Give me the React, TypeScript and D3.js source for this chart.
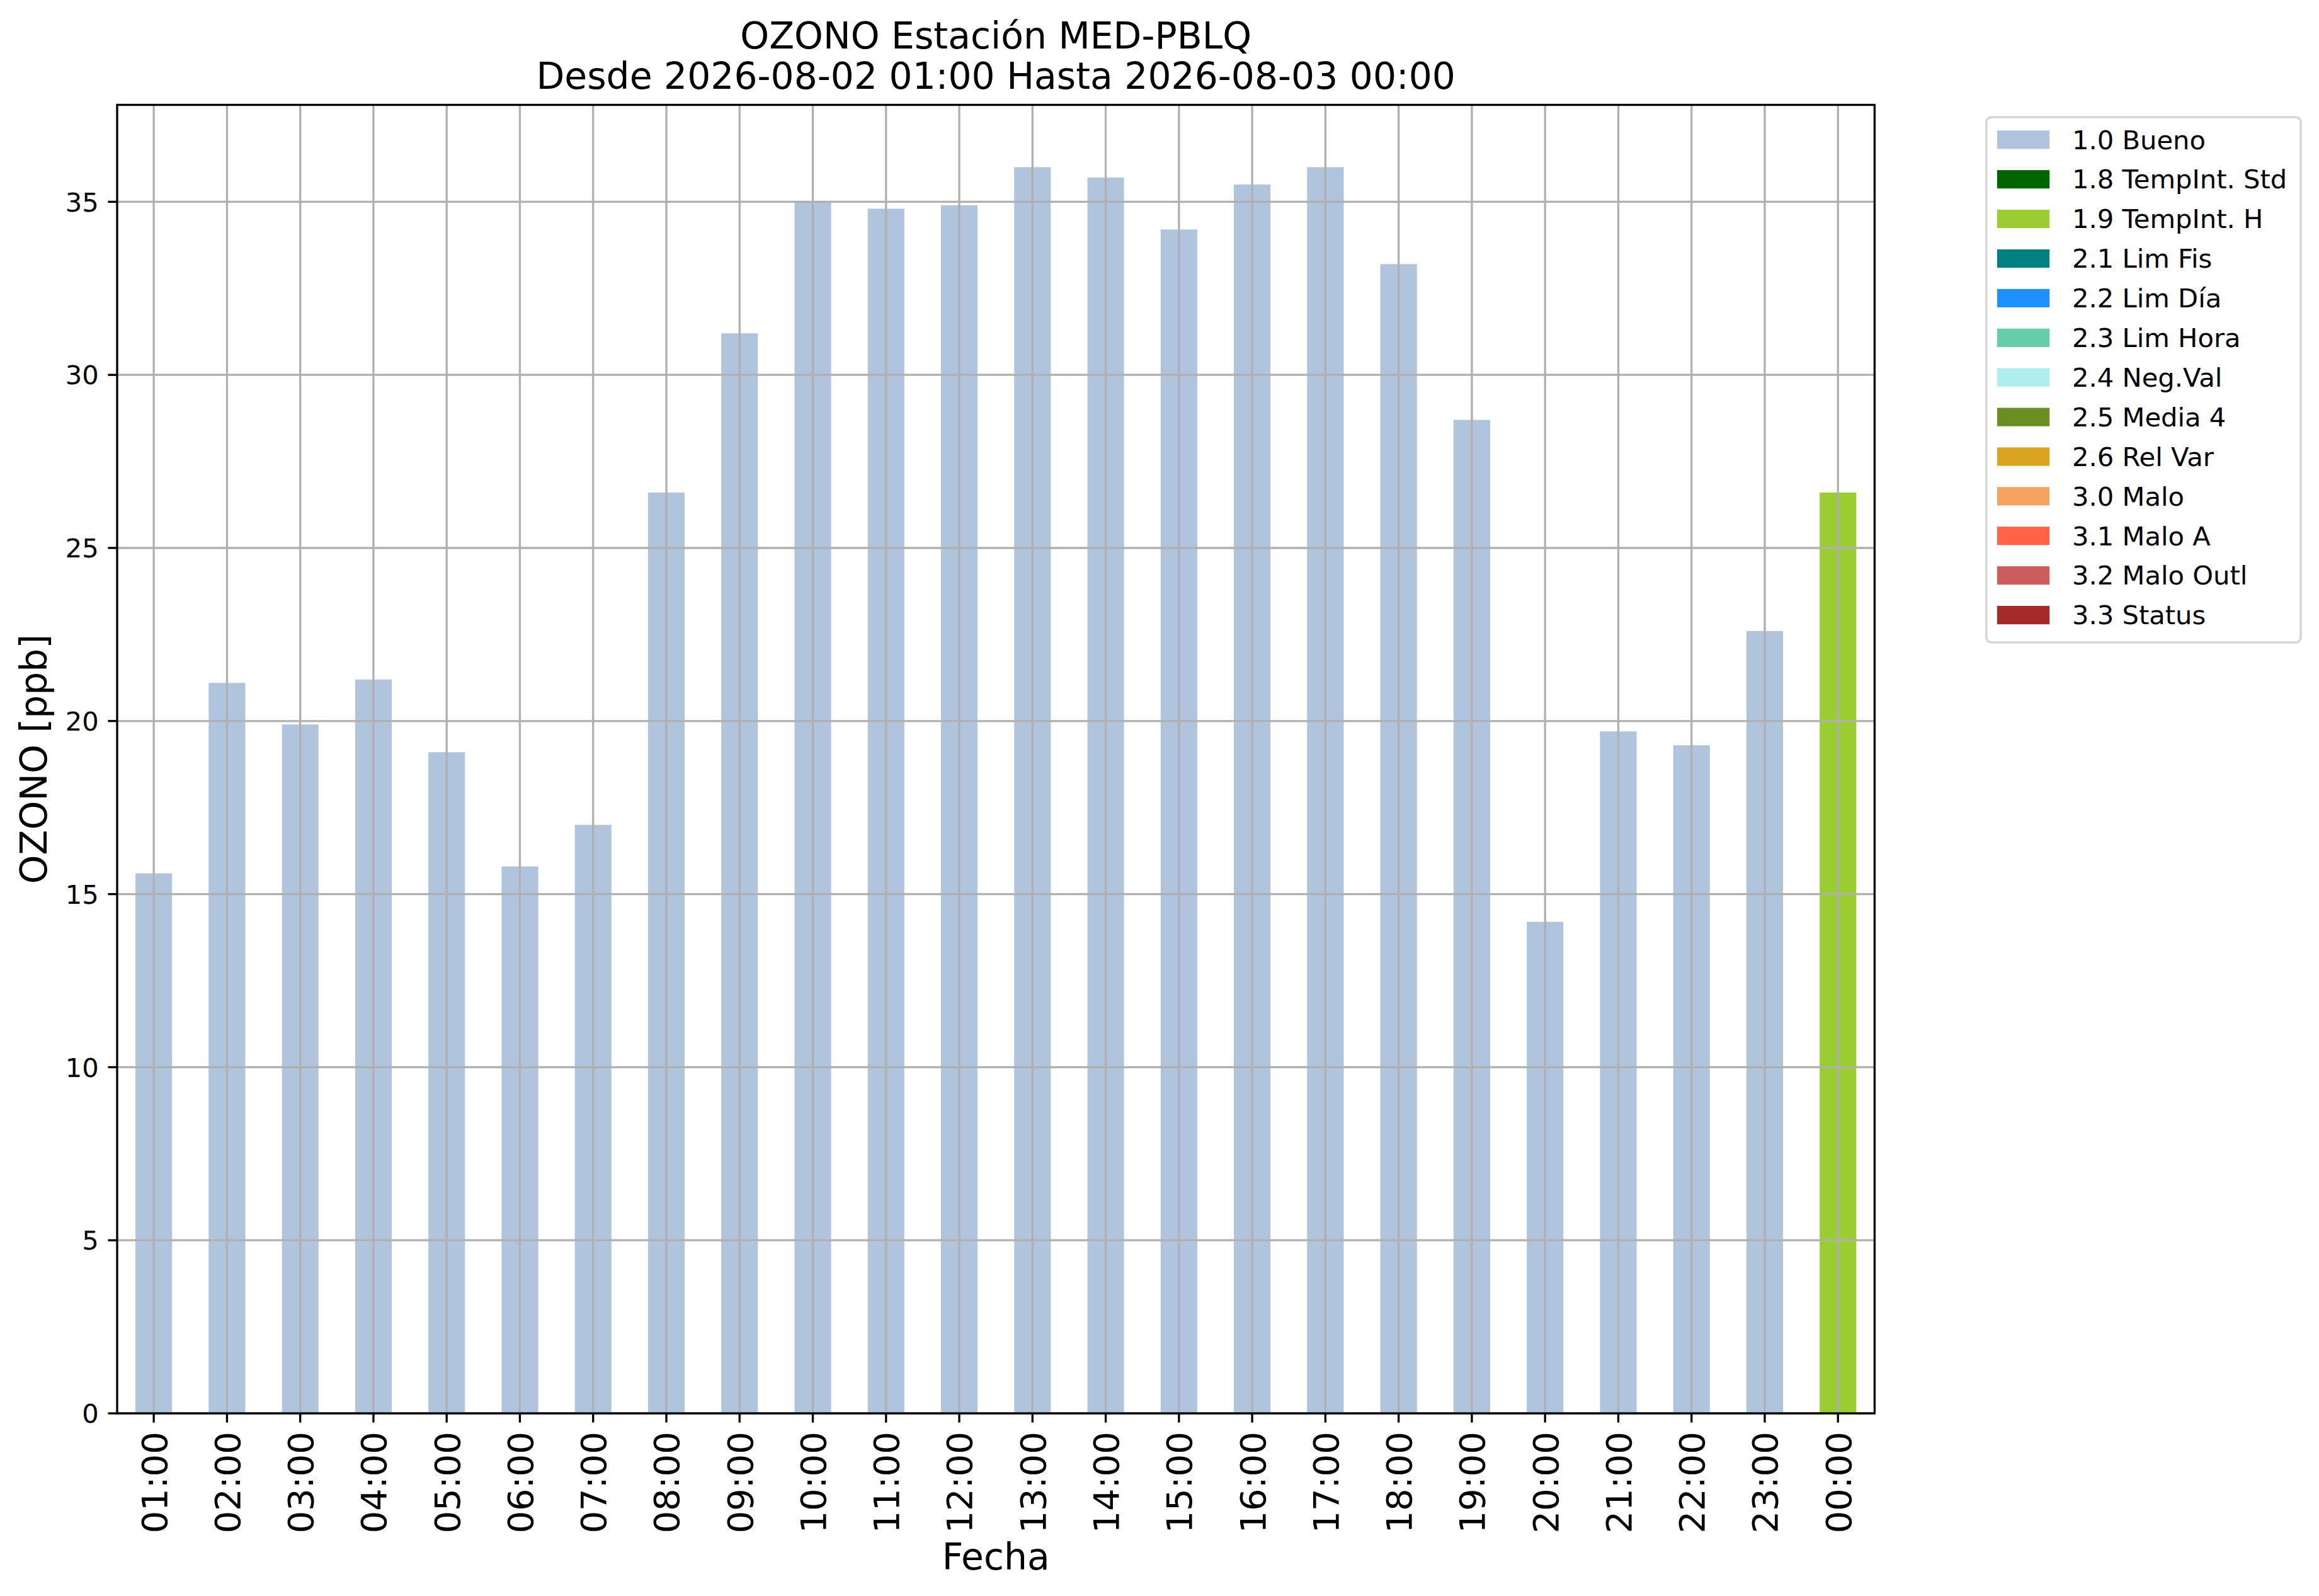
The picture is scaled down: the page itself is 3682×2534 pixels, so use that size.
import React from "react";
import * as d3 from "d3";

const hours = ["01:00","02:00","03:00","04:00","05:00","06:00","07:00","08:00","09:00","10:00","11:00","12:00","13:00","14:00","15:00","16:00","17:00","18:00","19:00","20:00","21:00","22:00","23:00","00:00"];
const ozone = [15.6,21.1,19.9,21.2,19.1,15.8,17.0,26.6,31.2,35.0,34.8,34.9,36.0,35.7,34.2,35.5,36.0,33.2,28.7,14.2,19.7,19.3,22.6,26.6];
const flags = ["1.0","1.0","1.0","1.0","1.0","1.0","1.0","1.0","1.0","1.0","1.0","1.0","1.0","1.0","1.0","1.0","1.0","1.0","1.0","1.0","1.0","1.0","1.0","1.9"];
const legendCodes = ["1.0","1.8","1.9","2.1","2.2","2.3","2.4","2.5","2.6","3.0","3.1","3.2","3.3"];
const legendLabels = ["1.0 Bueno","1.8 TempInt. Std","1.9 TempInt. H","2.1 Lim Fis","2.2 Lim Día","2.3 Lim Hora","2.4 Neg.Val","2.5 Media 4","2.6 Rel Var","3.0 Malo","3.1 Malo A","3.2 Malo Outl","3.3 Status"];
const legendColors = ["#B0C4DE","#006400","#9ACD32","#008080","#1E90FF","#66CDAA","#AFEEEE","#6B8E23","#DAA520","#F4A460","#FF6347","#CD5C5C","#A52A2A"];
const yTicks = [0,5,10,15,20,25,30,35];
const titleLines = ["OZONO Estación MED-PBLQ","Desde 2026-08-02 01:00 Hasta 2026-08-03 00:00"];

const W = 3682, H = 2534;
const L = 186, R = 2976.4, T = 166.5, B = 2244;
const FONT = "DejaVu Sans";

export default function App() {
  const x = d3.scaleBand<string>().domain(hours).range([L, R]).paddingInner(0.5).paddingOuter(0.25);
  const y = d3.scaleLinear().domain([0, 37.8]).range([B, T]);
  const color = d3.scaleOrdinal<string, string>().domain(legendCodes).range(legendColors);
  const cx = (h: string) => (x(h) as number) + x.bandwidth() / 2;
  const lw = 3.33;
  const grid = "#b0b0b0";
  const tickLen = 14.6;
  const rowH = 62.9;
  const legX = 3153.8, legY = 186, legW = 3653 - 3153.8, legH = 834;
  const firstRow = 221.8;

  return (
    <svg width={W} height={H} viewBox={`0 0 ${W} ${H}`} style={{ position: "absolute", left: 0, top: 0, background: "#fff" }} fontFamily={FONT}>
      <rect x={0} y={0} width={W} height={H} fill="#fff" />
      {hours.map((h, i) => (
        <rect key={h} x={x(h)} y={y(ozone[i])} width={x.bandwidth()} height={y(0) - y(ozone[i])} fill={color(flags[i])} />
      ))}
      {hours.map((h) => (
        <line key={"gx" + h} x1={cx(h)} x2={cx(h)} y1={T} y2={B} stroke={grid} strokeWidth={lw} />
      ))}
      {yTicks.map((t) => (
        <line key={"gy" + t} x1={L} x2={R} y1={y(t)} y2={y(t)} stroke={grid} strokeWidth={lw} />
      ))}
      <rect x={L} y={T} width={R - L} height={B - T} fill="none" stroke="#000" strokeWidth={lw} />
      {yTicks.map((t) => (
        <g key={"yt" + t}>
          <line x1={L - tickLen} x2={L} y1={y(t)} y2={y(t)} stroke="#000" strokeWidth={lw} />
          <text x={L - tickLen - 14.6} y={y(t)} dy="0.364em" textAnchor="end" fontSize={41.67}>{t}</text>
        </g>
      ))}
      {hours.map((h) => (
        <g key={"xt" + h}>
          <line x1={cx(h)} x2={cx(h)} y1={B} y2={B + tickLen} stroke="#000" strokeWidth={lw} />
          <text transform={`translate(${cx(h)},${B + tickLen + 14.6}) rotate(-90)`} dy="0.364em" textAnchor="end" fontSize={56}>{h}</text>
        </g>
      ))}
      <text x={(L + R) / 2} y={2492} textAnchor="middle" fontSize={58.33}>Fecha</text>
      <text transform={`translate(74,${(T + B) / 2}) rotate(-90)`} textAnchor="middle" fontSize={58.33}>OZONO [ppb]</text>
      {titleLines.map((s, i) => (
        <text key={s} x={(L + R) / 2} y={76.5 + i * 64.3} textAnchor="middle" fontSize={58.33}>{s}</text>
      ))}
      <rect x={legX} y={legY} width={legW} height={legH} rx={8} ry={8} fill="#fff" fillOpacity={0.8} stroke="#d6d6d6" strokeWidth={3.6} />
      {legendLabels.map((lab, i) => (
        <g key={lab}>
          <rect x={3170.9} y={firstRow + i * rowH - 14.6} width={83.3} height={29.2} fill={legendColors[i]} />
          <text x={3290} y={firstRow + i * rowH + 14.7} fontSize={41.67}>{lab}</text>
        </g>
      ))}
    </svg>
  );
}
